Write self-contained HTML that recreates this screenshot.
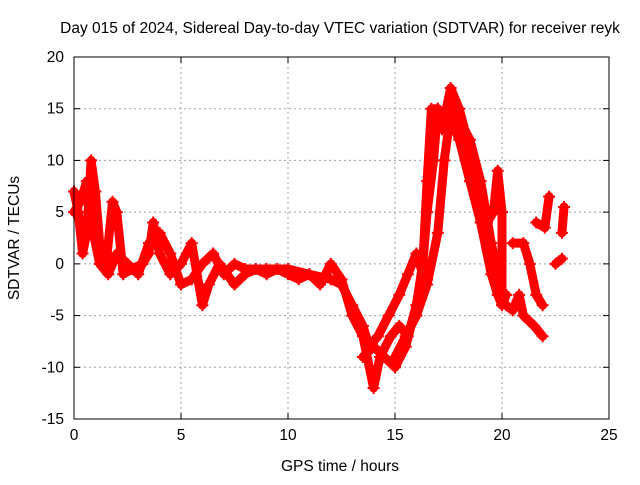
<!DOCTYPE html>
<html><head><meta charset="utf-8"><style>
body{margin:0;background:#fff;width:640px;height:480px;overflow:hidden;font-family:"Liberation Sans",sans-serif}
svg text{font-family:"Liberation Sans",sans-serif;font-size:15.5px;fill:#000}
</style></head><body>
<svg id="chart" width="640" height="480" viewBox="0 0 640 480">
<text x="340" y="33" text-anchor="middle">Day 015 of 2024, Sidereal Day-to-day VTEC variation (SDTVAR) for receiver reyk</text>
<text x="340" y="471" text-anchor="middle">GPS time / hours</text>
<text x="19" y="238" text-anchor="middle" transform="rotate(-90 19 238)">SDTVAR / TECUs</text>
<g id="grid"></g>
<g id="series"></g>
<rect x="74" y="57" width="535" height="362" fill="none" stroke="#000" stroke-width="1"/>
</svg>
<script>
const xTicks=[0,5,10,15,20,25];
const yTicks=[-15,-10,-5,0,5,10,15,20];
const track1=[[0,7],[0.2,5],[0.4,1],[0.6,3],[0.8,10],[1.0,7],[1.2,2],[1.5,0],[1.8,6],[2.0,5],[2.3,-1],[2.7,-0.5],[3.2,0],[3.5,1],[3.7,4],[4.0,1],[4.5,-1],[5.0,0],[5.5,2],[6.0,-4],[6.3,-2],[6.8,0],[7.5,-2],[8.0,-1],[8.5,-0.5],[9,-1],[9.5,-0.5],[10,-1],[10.5,-1.5],[11,-1],[11.5,-2],[12,0],[12.5,-1.5],[13,-5],[13.5,-7],[14,-12],[14.3,-9],[14.8,-7],[15.2,-6],[15.6,-7],[16,-4],[16.3,0],[16.5,8],[16.7,15],[17,15],[17.2,13],[17.6,14],[18,12],[18.5,8],[19,4],[19.5,-1],[19.8,-3],[20,-4],[20.2,-3]];
const track2=[[0,5],[0.3,6],[0.6,8],[0.9,3],[1.2,0],[1.6,-1],[2.0,1],[2.5,0],[3,-1],[3.5,2],[4.0,3],[4.5,1],[5,-2],[5.5,-1.5],[6,0],[6.5,1],[7,-1],[7.5,0],[8,-0.5],[9,-0.5],[10,-0.5],[11,-1],[12,-1.5],[12.5,-2],[13,-4],[13.5,-6],[13.8,-8],[14.2,-7],[14.7,-5],[15.2,-3],[15.6,-1],[16,1],[16.3,-1],[16.5,-1.5]];
const track3=[[13.5,-9],[14,-8],[14.5,-9],[15,-10],[15.5,-8],[16,-4],[16.3,0],[16.5,5],[16.8,10],[17,15],[17.3,14],[17.6,17],[18,15],[18.5,11],[19,7],[19.3,4],[19.6,5],[19.8,9],[20,5],[20,-3]];
const track4=[[15,-9],[15.5,-7],[16,-5],[16.5,-2],[17,3],[17.3,10],[17.7,16],[18,14],[18.5,12],[19,8],[19.5,2],[19.9,-2]];
const track5=[[20.2,-4],[20.5,-4.5],[20.8,-3],[21,-5],[21.5,-6],[21.9,-7]];
const track6=[[20.5,2],[21,2],[21.3,0],[21.6,-3],[21.9,-4]];
const track7=[[21.6,4],[22,3.5],[22.2,6.5]];
const track8=[[22.5,0],[22.8,0.5]];
const track9=[[22.8,3],[22.9,5.5]];
const tracks=[track1,track2,track3,track4,track5,track6,track7,track8,track9];

const X0=74,X1=609,Y0=419,Y1=57;
const sx=v=>X0+(v-0)/(25-0)*(X1-X0);
const sy=v=>Y0-(v+15)/(35)*(Y0-Y1);
const NS='http://www.w3.org/2000/svg';
const grid=document.getElementById('grid');
function mk(t,a,p){const e=document.createElementNS(NS,t);for(const k in a)e.setAttribute(k,a[k]);p.appendChild(e);return e;}
xTicks.forEach(t=>{
  const x=sx(t);
  if(t>0&&t<25){const l=mk('line',{x1:x,x2:x,y1:Y1,y2:Y0,stroke:'#a0a0a0','stroke-dasharray':'2,3'},grid);
  
  }
  mk('line',{x1:x,x2:x,y1:Y0,y2:Y0-6,stroke:'#000'},grid);
  mk('line',{x1:x,x2:x,y1:Y1,y2:Y1+6,stroke:'#000'},grid);
  const tx=mk('text',{x:x,y:Y0+21,'text-anchor':'middle'},grid);tx.textContent=t;
  
  
});
yTicks.forEach(t=>{
  const y=sy(t);
  if(t>-15&&t<20){const l=mk('line',{x1:X0,x2:X1,y1:y,y2:y,stroke:'#a0a0a0','stroke-dasharray':'2,3'},grid);
  
  }
  mk('line',{x1:X0,x2:X0+6,y1:y,y2:y,stroke:'#000'},grid);
  mk('line',{x1:X1,x2:X1-6,y1:y,y2:y,stroke:'#000'},grid);
  const tx=mk('text',{x:X0-10,y:y+5,'text-anchor':'end'},grid);tx.textContent=t;
  
  
});
const sg=document.getElementById('series');
tracks.forEach((tr,i)=>{
  const pl=mk('polyline',{points:tr.map(p=>sx(p[0])+','+sy(p[1])).join(' '),fill:'none',stroke:'#ff0000','stroke-width':9,'stroke-linejoin':'round','stroke-linecap':'round'},sg);
  
  
  tr.forEach(p=>{
    const x=sx(p[0]),y=sy(p[1]);
    const m=mk('path',{d:`M${x-6},${y}H${x+6}M${x},${y-6}V${y+6}`,stroke:'#ff0000','stroke-width':2},sg);
    
    
  });
});
</script>
</body></html>
